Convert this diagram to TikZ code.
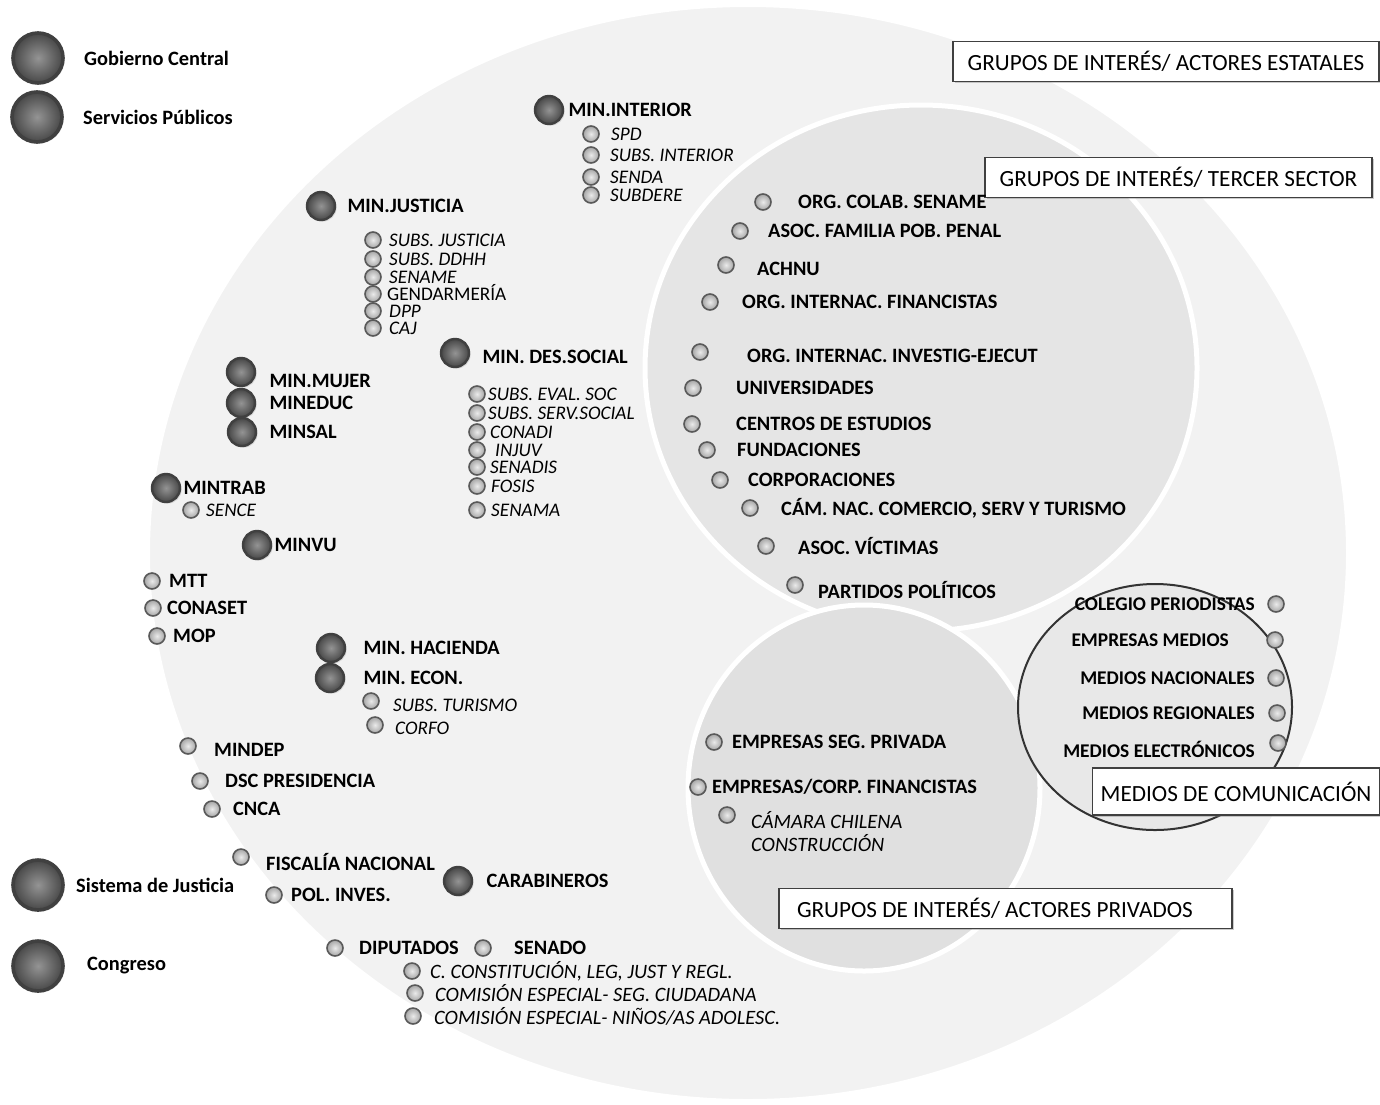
\documentclass[tikz,border=0pt]{standalone}
\usepackage{fontspec}
\setmainfont{Carlito}
\usetikzlibrary{shadows}
\tikzset{
gob/.style={shape=circle, draw=black!75, line width=1.2pt, inner color=black!42, outer color=black!72, minimum size=14pt, inner sep=0pt, drop shadow={shadow xshift=0.8pt, shadow yshift=-0.8pt, opacity=0.25}},
leyenda/.style={gob, minimum size=25pt, line width=1.8pt},
srv/.style={shape=circle, draw=black!65, line width=0.8pt, inner color=black!8, outer color=black!35, minimum size=8pt, inner sep=0pt},
rotulo/.style={draw=black!75, line width=0.9pt, fill=white, align=flush left, inner ysep=0pt, minimum height=20pt, font=\fontsize{11.6}{13}\selectfont, drop shadow={shadow xshift=0.8pt, shadow yshift=-0.8pt, opacity=0.4}},
every label/.style={font=\bfseries\fontsize{10.2}{11.5}\selectfont, inner sep=0pt},
chico/.style={font=\itshape\fontsize{9.6}{10}\selectfont},
medio/.style={font=\bfseries\fontsize{9.7}{11}\selectfont}
}
\newcommand{\srvit}[1]{\mdseries\itshape #1}

\begin{document}
\begin{tikzpicture}[x=0.5pt, y=-0.5pt]

    \fill[white] (0,0) rectangle (1380,1104);
    \useasboundingbox (0,0) rectangle (1380,1104);

    % grupos de interes
    \fill[black!5, draw=white, line width=2pt] (748,553) ellipse [x radius=600, y radius=548];
    \fill[black!10, draw=white, line width=2.5pt] (921,368) ellipse [x radius=276, y radius=263];
    \fill[black!12, draw=white, line width=2.5pt] (864,788) ellipse [x radius=176, y radius=183];
    \filldraw[fill=black!9, draw=black!80, line width=1pt] (1155,707) ellipse [x radius=137, y radius=123];

    \node[rotulo, minimum width=213pt] (estatales) at (1166,61.5) {GRUPOS DE INTERÉS/ ACTORES ESTATALES};
    \node[rotulo, minimum width=193.5pt] (tercer) at (1178.5,177.5) {GRUPOS DE INTERÉS/ TERCER SECTOR};
    \node[rotulo, minimum width=143.5pt, minimum height=23.5pt] (medios) at (1236,791.5) {MEDIOS DE COMUNICACIÓN};
    \node[rotulo, text width=208.5pt, inner xsep=9pt] (privados) at (1005.5,908.5) {GRUPOS DE INTERÉS/ ACTORES PRIVADOS};

    % leyenda
    \node[leyenda, label={[label distance=9.5pt]right:Gobierno Central}] (gobcentral) at (38,58) {};
    \node[leyenda, label={[label distance=9.5pt]right:Servicios Públicos}] (servpub) at (37,117) {};
    \node[leyenda, label={[label distance=5.5pt]right:Sistema de Justicia}] (sisjusticia) at (38,885) {};
    \node[leyenda, label={[label distance=11pt]right:Congreso}] (congreso) at (38,966) {};

    % actores estatales
    \node[gob, label={[label distance=2pt]right:MIN.INTERIOR}] (mininterior) at (549,110) {};
    \node[srv, label={[chico, label distance=5.5pt]right:SPD}] (spd) at (591,134) {};
    \node[srv, label={[chico, label distance=5pt]right:SUBS. INTERIOR}] (subsinterior) at (591,155) {};
    \node[srv, label={[chico, label distance=5pt]right:SENDA}] (senda) at (591,177) {};
    \node[srv, label={[chico, label distance=5pt]right:SUBDERE}] (subdere) at (591,195) {};

    \node[gob, label={[label distance=5.5pt]right:MIN.JUSTICIA}] (minjusticia) at (321,206) {};
    \node[srv, label={[chico, label distance=3.5pt]right:SUBS. JUSTICIA}] (subsjusticia) at (373,240) {};
    \node[srv, label={[chico, label distance=3.5pt]right:SUBS. DDHH}] (subsddhh) at (373,259) {};
    \node[srv, label={[chico, label distance=3.5pt]right:SENAME}] (sename) at (373,277) {};
    \node[srv, label={[font=\fontsize{9.6}{10}\selectfont, label distance=2.5pt, yshift=0.5pt]right:GENDARMERÍA}] (gendarmeria) at (373,294) {};
    \node[srv, label={[chico, label distance=3.5pt]right:DPP}] (dpp) at (373,311) {};
    \node[srv, label={[chico, label distance=3.5pt]right:CAJ}] (caj) at (373,328) {};

    \node[gob, label={[label distance=6pt, yshift=-2pt]right:MIN. DES.SOCIAL}] (mindessocial) at (455,353) {};
    \node[srv, label={[chico, label distance=1pt]right:SUBS. EVAL. SOC}] (subsevalsoc) at (477,394) {};
    \node[srv, label={[chico, label distance=1pt]right:SUBS. SERV.SOCIAL}] (subsservsocial) at (477,413) {};
    \node[srv, label={[chico, label distance=2pt]right:CONADI}] (conadi) at (477,432) {};
    \node[srv, label={[chico, label distance=4.5pt]right:INJUV}] (injuv) at (477,450) {};
    \node[srv, label={[chico, label distance=2pt]right:SENADIS}] (senadis) at (477,467) {};
    \node[srv, label={[chico, label distance=2.5pt]right:FOSIS}] (fosis) at (477,486) {};
    \node[srv, label={[chico, label distance=2.5pt]right:SENAMA}] (senama) at (477,510) {};

    \node[gob, label={[label distance=6.5pt, yshift=-4.5pt]right:MIN.MUJER}] (minmujer) at (241,372) {};
    \node[gob, label={[label distance=6.5pt]right:MINEDUC}] (mineduc) at (241,403) {};
    \node[gob, label={[label distance=6pt]right:MINSAL}] (minsal) at (242,432) {};
    \node[gob, label={[label distance=1pt]right:MINTRAB}] (mintrab) at (166,488) {};
    \node[srv, label={[chico, label distance=3pt]right:SENCE}] (sence) at (191,510) {};
    \node[gob, label={[label distance=1pt]right:MINVU}] (minvu) at (257,545) {};

    \node[srv, label={[label distance=4pt]right:MTT}] (mtt) at (152,581) {};
    \node[srv, label={[label distance=2.5pt]right:CONASET}] (conaset) at (153,608) {};
    \node[srv, label={[label distance=3.5pt]right:MOP}] (mop) at (157,636) {};

    \node[gob, label={[label distance=8.5pt]right:MIN. HACIENDA}] (minhacienda) at (331,648) {};
    \node[gob, label={[label distance=9pt]right:MIN. ECON.}] (minecon) at (330,678) {};
    \node[srv, label={[chico, label distance=6.5pt, yshift=-2pt]right:SUBS. TURISMO}] (substurismo) at (371,701) {};
    \node[srv, label={[chico, label distance=5.5pt, yshift=-1.5pt]right:CORFO}] (corfo) at (375,725) {};

    \node[srv, label={[label distance=8.5pt, yshift=-2pt]right:MINDEP}] (mindep) at (188,746) {};
    \node[srv, label={[label distance=8pt]right:DSC PRESIDENCIA}] (dscpresidencia) at (200,781) {};
    \node[srv, label={[label distance=6pt]right:CNCA}] (cnca) at (212,809) {};

    \node[srv, label={[label distance=8pt, yshift=-2.5pt]right:FISCALÍA NACIONAL}] (fiscalia) at (241,857) {};
    \node[srv, label={[label distance=4pt]right:POL. INVES.}] (polinves) at (274,895) {};
    \node[gob, label={[label distance=6.5pt]right:CARABINEROS}] (carabineros) at (458,881) {};

    \node[srv, label={[label distance=7.5pt]right:DIPUTADOS}] (diputados) at (335,948) {};
    \node[srv, label={[label distance=11pt]right:SENADO}] (senado) at (483,948) {};
    \node[srv, label={[label distance=4.5pt]right:\srvit{C. CONSTITUCIÓN, LEG, JUST Y REGL.}}] (cconstitucion) at (412,971) {};
    \node[srv, label={[label distance=5.5pt]right:\srvit{COMISIÓN ESPECIAL- SEG. CIUDADANA}}] (comseguridad) at (415,993) {};
    \node[srv, label={[label distance=6pt]right:\srvit{COMISIÓN ESPECIAL- NIÑOS/AS ADOLESC.}}] (comninos) at (413,1016) {};

    % tercer sector
    \node[srv, label={[label distance=13pt]right:ORG. COLAB. SENAME}] (orgcolab) at (763,202) {};
    \node[srv, label={[label distance=9.5pt]right:ASOC. FAMILIA POB. PENAL}] (asocfamilia) at (740,231) {};
    \node[srv, label={[label distance=11pt, yshift=-2pt]right:ACHNU}] (achnu) at (726,265) {};
    \node[srv, label={[label distance=11.5pt]right:ORG. INTERNAC. FINANCISTAS}] (orgfinancistas) at (710,302) {};
    \node[srv, label={[label distance=19pt, yshift=-2pt]right:ORG. INTERNAC. INVESTIG-EJECUT}] (orginvestig) at (700,352) {};
    \node[srv, label={[label distance=17pt]right:UNIVERSIDADES}] (universidades) at (693,388) {};
    \node[srv, label={[label distance=17.5pt]right:CENTROS DE ESTUDIOS}] (centros) at (692,424) {};
    \node[srv, label={[label distance=10.5pt]right:FUNDACIONES}] (fundaciones) at (707,450) {};
    \node[srv, label={[label distance=9.5pt]right:CORPORACIONES}] (corporaciones) at (720,480) {};
    \node[srv, label={[label distance=11pt]right:CÁM. NAC. COMERCIO, SERV Y TURISMO}] (camnac) at (750,508) {};
    \node[srv, label={[label distance=11.5pt]right:ASOC. VÍCTIMAS}] (asocvictimas) at (766,546) {};
    \node[srv, label={[label distance=7pt, yshift=-2.5pt]right:PARTIDOS POLÍTICOS}] (partidos) at (795,585) {};

    % medios de comunicacion
    \node[srv, label={[medio, label distance=6pt]left:COLEGIO PERIODISTAS}] (colegio) at (1276,604) {};
    \node[srv, label={[medio, label distance=18.5pt]left:EMPRESAS MEDIOS}] (empmedios) at (1275,640) {};
    \node[srv, label={[medio, label distance=6pt]left:MEDIOS NACIONALES}] (nacionales) at (1276,678) {};
    \node[srv, label={[medio, label distance=6.5pt]left:MEDIOS REGIONALES}] (regionales) at (1277,713) {};
    \node[srv, label={[medio, label distance=7pt, yshift=-3pt]left:MEDIOS ELECTRÓNICOS}] (electronicos) at (1278,743) {};

    % actores privados
    \node[srv, label={[label distance=4.5pt]right:EMPRESAS SEG. PRIVADA}] (empseguridad) at (714,742) {};
    \node[srv, label={[label distance=2.5pt]right:EMPRESAS/CORP. FINANCISTAS}] (empfinancistas) at (698,787) {};
    \node[srv, label={[label distance=7.5pt, align=left, anchor=north west, yshift=2pt, font=\itshape\fontsize{10.2}{11.5}\selectfont]right:CÁMARA CHILENA\\CONSTRUCCIÓN}] (camchilena) at (727,815) {};

\end{tikzpicture}
\end{document}
